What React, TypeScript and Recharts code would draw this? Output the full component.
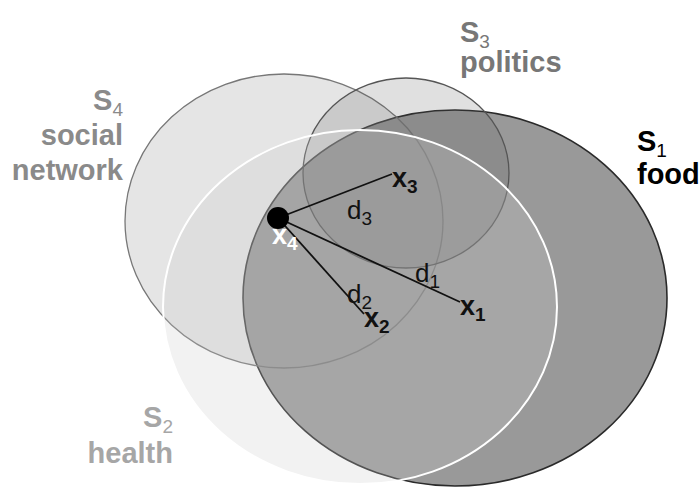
import React from 'react';
import { ScatterChart, Scatter, XAxis, YAxis } from 'recharts';

// ---- data ----
const setIds = ['S1', 'S2', 'S3', 'S4'];
const setTopics = [['food'], ['health'], ['politics'], ['social', 'network']];
const setCenterX = [455, 360, 406, 284];
const setCenterY = [298, 307, 173, 221];
const setRadiusX = [212, 197, 103, 159];
const setRadiusY = [188, 177, 95, 147];
const setLabelX = [637, 173, 460, 123];
const setLabelY = [151, 427, 42, 110];

const pointIds = ['x1', 'x2', 'x3', 'x4'];
const pointX = [460, 364, 392, 278];
const pointY = [302, 314, 174, 218];

const distIds = ['d1', 'd2', 'd3'];
const distLabelX = [415, 347, 347];
const distLabelY = [282, 303, 219];

// ---- styles ----
const W = 700;
const H = 488;
const FONT = '"Liberation Sans", Arial, Helvetica, sans-serif';
const drawOrder = ['S1', 'S4', 'S3', 'S2'];
const setStyle: Record<string, any> = {
  S1: { fill: '#999999', fillOpacity: 1, stroke: '#2a2a2a', strokeWidth: 1.6, text: '#000000', anchor: 'start', gap: 33 },
  S2: { fill: '#cccccc', fillOpacity: 0.255, stroke: '#ffffff', strokeWidth: 2, text: '#a6a6a6', anchor: 'end', gap: 36 },
  S3: { fill: '#505050', fillOpacity: 0.176, stroke: '#555555', strokeWidth: 1.3, text: '#777777', anchor: 'start', gap: 30 },
  S4: { fill: '#999999', fillOpacity: 0.25, stroke: '#777777', strokeWidth: 1.3, text: '#8a8a8a', anchor: 'end', gap: 35 },
};

const sets = setIds.map((id, i) => ({
  id,
  x: setCenterX[i],
  y: setCenterY[i],
  rx: setRadiusX[i],
  ry: setRadiusY[i],
}));
const setLabels = setIds.map((id, i) => ({ id, x: setLabelX[i], y: setLabelY[i], topics: setTopics[i] }));
const points = pointIds.map((id, i) => ({ id, x: pointX[i], y: pointY[i] }));
const dists = distIds.map((id, i) => ({ id, x: distLabelX[i], y: distLabelY[i] }));
const hub = points[3];
const spokes = [points[0], points[1], points[2]];

const sx = W / 700;
const sy = H / 488;

const EllipseShape = (props: any) => {
  const { cx, cy, payload } = props;
  const st = setStyle[payload.id];
  return (
    <ellipse
      cx={cx}
      cy={cy}
      rx={payload.rx * sx}
      ry={payload.ry * sy}
      fill={st.fill}
      fillOpacity={st.fillOpacity}
      stroke={st.stroke}
      strokeWidth={st.strokeWidth}
    />
  );
};

const SetLabelShape = (props: any) => {
  const { cx, cy, payload } = props;
  const st = setStyle[payload.id];
  const letter = payload.id.slice(0, 1);
  const sub = payload.id.slice(1);
  return (
    <g fontFamily={FONT} fontWeight="bold" fill={st.text} textAnchor={st.anchor}>
      <text x={cx} y={cy} fontSize={29}>
        {letter}
        <tspan fontSize={19} fontWeight="normal" dy={6}>{sub}</tspan>
      </text>
      {payload.topics.map((t: string, k: number) => (
        <text key={t} x={cx} y={cy + st.gap * (k + 1)} fontSize={29}>{t}</text>
      ))}
    </g>
  );
};

const PointLabelShape = (props: any) => {
  const { cx, cy, payload } = props;
  const isHub = payload.id === 'x4';
  const letter = payload.id.slice(0, 1);
  const sub = payload.id.slice(1);
  return (
    <g fontFamily={FONT} fontWeight="bold">
      {isHub && <circle cx={cx} cy={cy} r={11} fill="#000000" />}
      <text
        x={isHub ? cx - 6 : cx}
        y={isHub ? cy + 26 : cy + 13}
        fontSize={27}
        fill={isHub ? '#ffffff' : '#111111'}
      >
        {letter}
        <tspan fontSize={19} dy={6}>{sub}</tspan>
      </text>
    </g>
  );
};

const DistLabelShape = (props: any) => {
  const { cx, cy, payload } = props;
  return (
    <text x={cx} y={cy} fontFamily={FONT} fontSize={26} fill="#111111">
      {payload.id.slice(0, 1)}
      <tspan fontSize={19} dy={6}>{payload.id.slice(1)}</tspan>
    </text>
  );
};

const NoDot = () => <g />;

export default function App() {
  return (
    <div style={{ position: 'absolute', left: 0, top: 0, width: W, height: H, background: '#ffffff' }}>
      <ScatterChart width={W} height={H} margin={{ top: 0, right: 0, bottom: 0, left: 0 }}>
        <XAxis type="number" dataKey="x" domain={[0, 700]} hide allowDataOverflow />
        <YAxis type="number" dataKey="y" domain={[0, 488]} reversed hide allowDataOverflow />
        {drawOrder.map((id) => (
          <Scatter
            key={id}
            data={sets.filter((s) => s.id === id)}
            shape={EllipseShape}
            isAnimationActive={false}
          />
        ))}
        {spokes.map((p) => (
          <Scatter
            key={p.id}
            data={[hub, p]}
            line={{ stroke: '#111111', strokeWidth: 1.8 }}
            lineType="joint"
            shape={NoDot}
            isAnimationActive={false}
          />
        ))}
        <Scatter data={setLabels} shape={SetLabelShape} isAnimationActive={false} />
        <Scatter data={dists} shape={DistLabelShape} isAnimationActive={false} />
        <Scatter data={points} shape={PointLabelShape} isAnimationActive={false} />
      </ScatterChart>
    </div>
  );
}
